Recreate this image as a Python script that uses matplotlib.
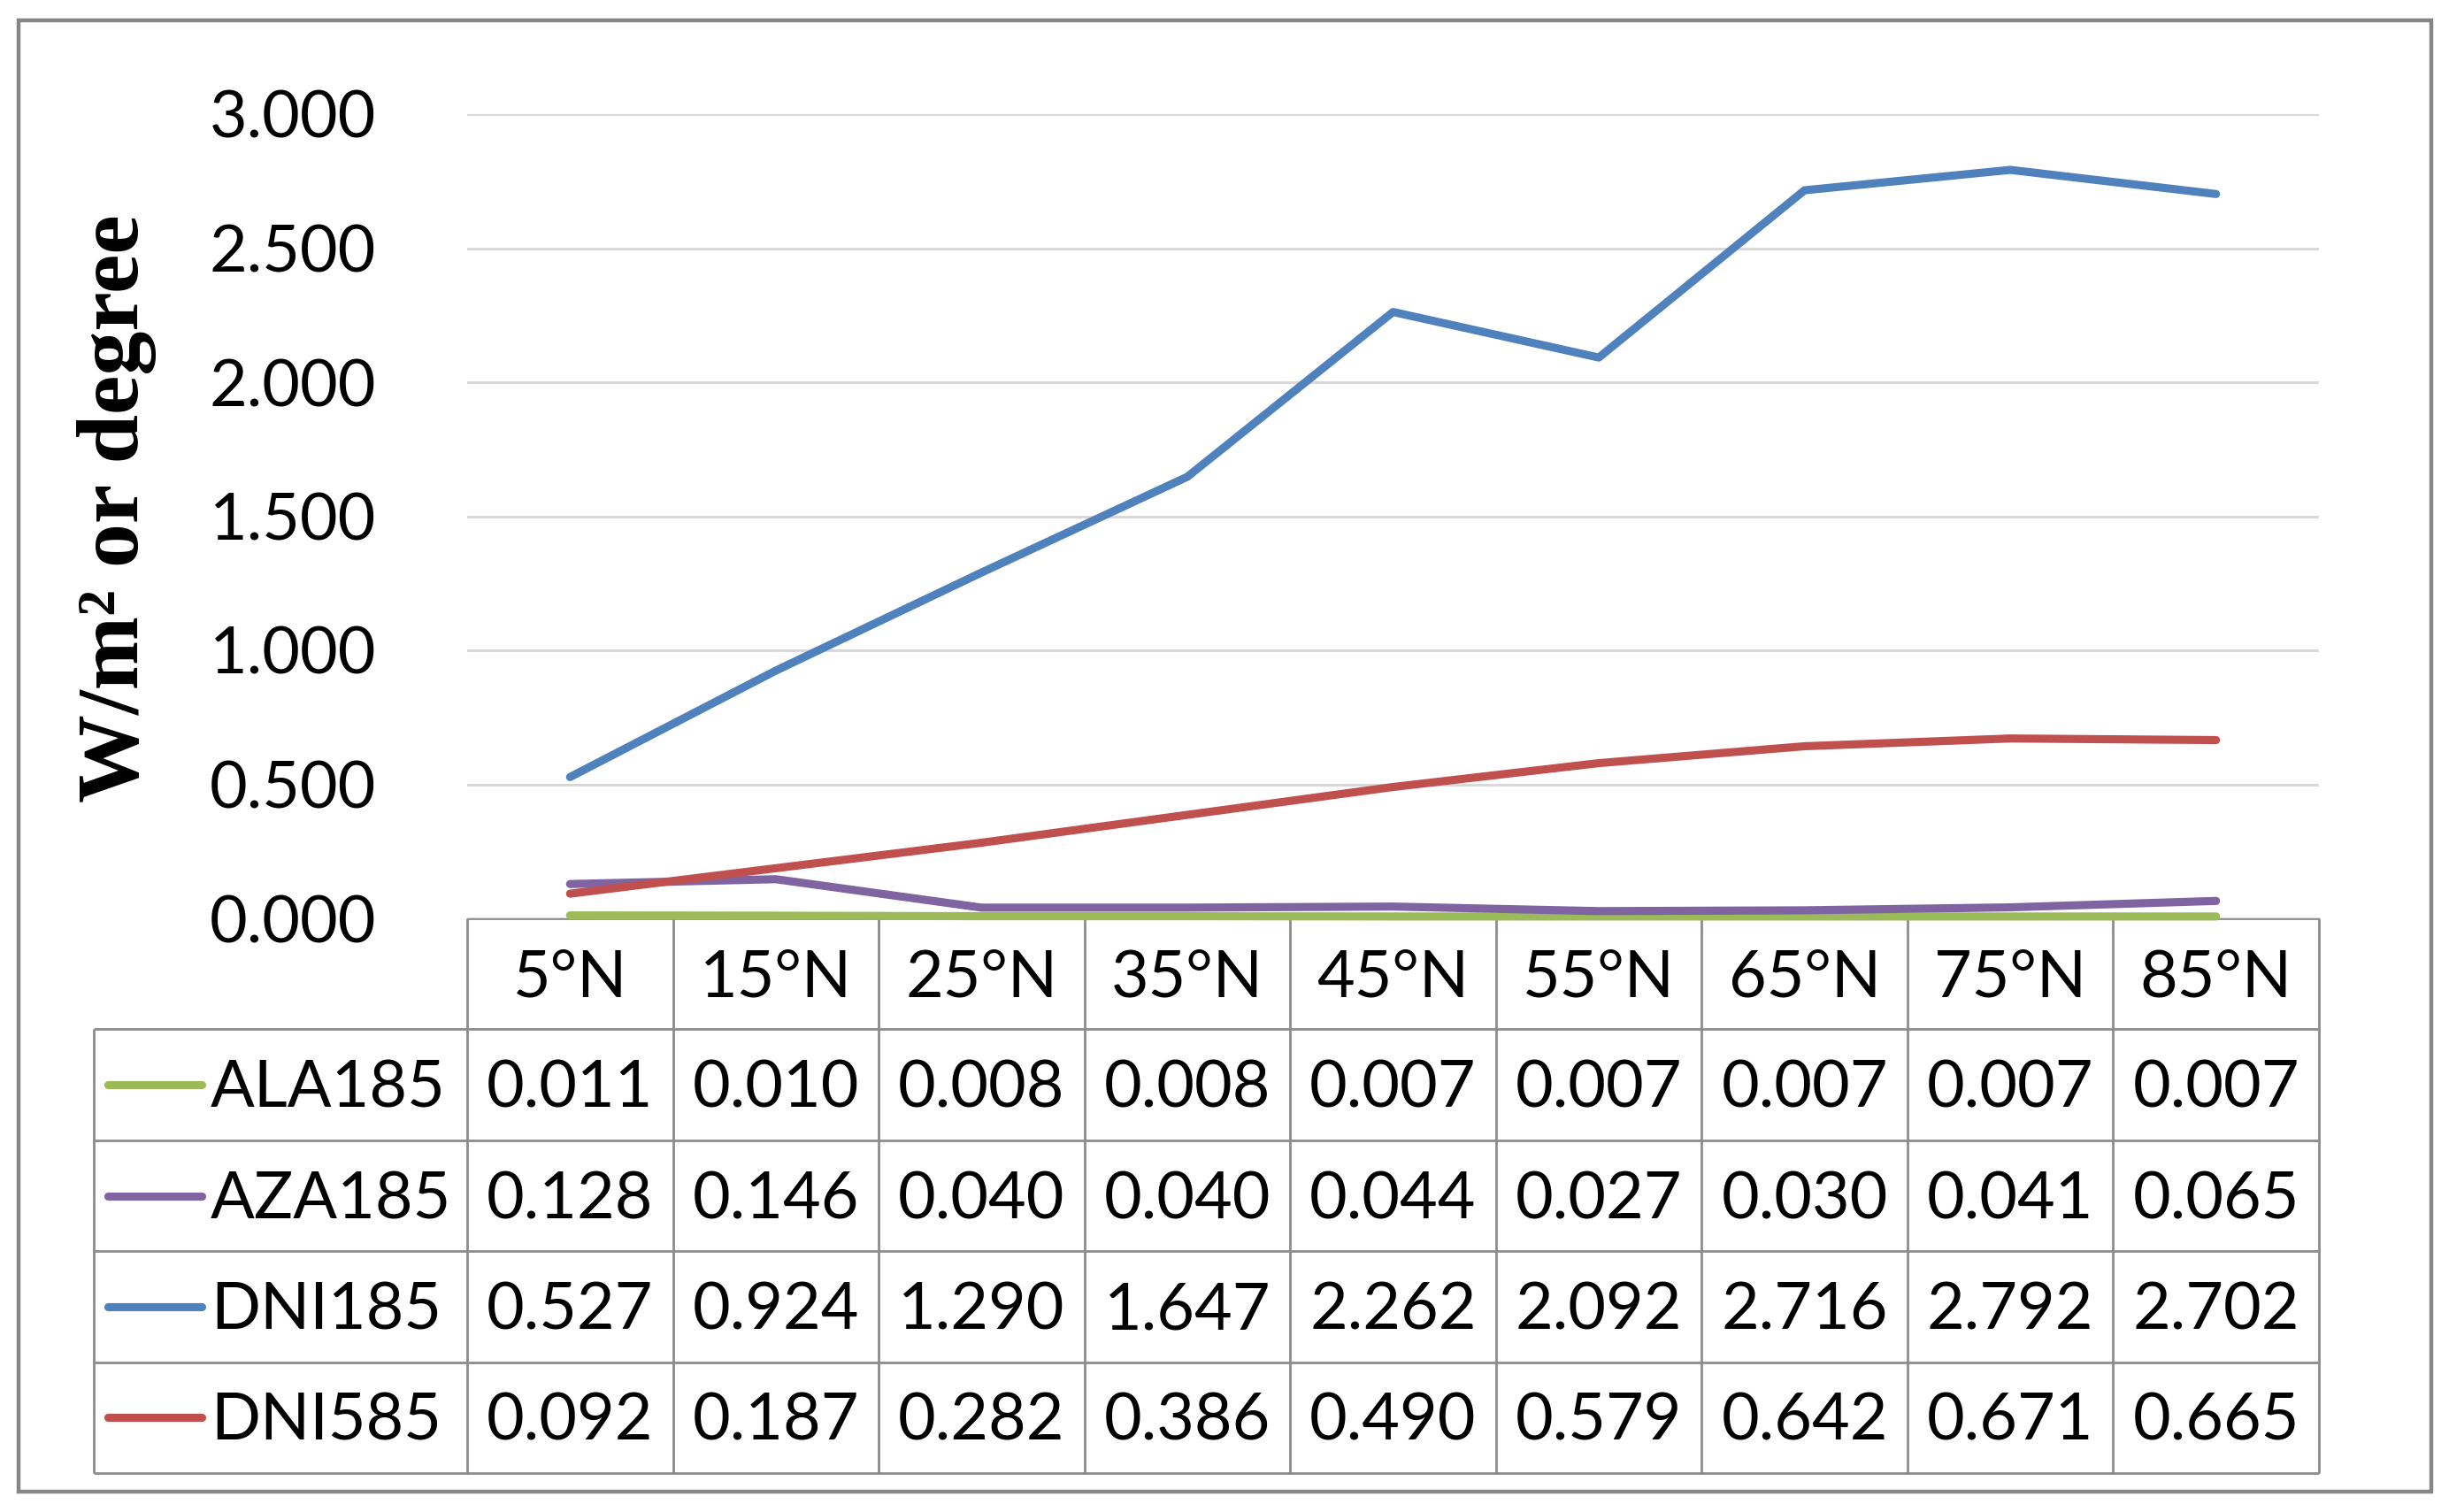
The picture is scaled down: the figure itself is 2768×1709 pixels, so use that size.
import numpy as np
import matplotlib
matplotlib.use('Agg')
import matplotlib.pyplot as plt
from matplotlib.patches import Rectangle

latitudes = ['5°N', '15°N', '25°N', '35°N', '45°N', '55°N', '65°N', '75°N', '85°N']
series_names = ['ALA185', 'AZA185', 'DNI185', 'DNI585']
ala185 = [0.011, 0.010, 0.008, 0.008, 0.007, 0.007, 0.007, 0.007, 0.007]
aza185 = [0.128, 0.146, 0.040, 0.040, 0.044, 0.027, 0.030, 0.041, 0.065]
dni185 = [0.527, 0.924, 1.290, 1.647, 2.262, 2.092, 2.716, 2.792, 2.702]
dni585 = [0.092, 0.187, 0.282, 0.386, 0.490, 0.579, 0.642, 0.671, 0.665]
y_ticks = [0.0, 0.5, 1.0, 1.5, 2.0, 2.5, 3.0]

colors = ['#9BBB59', '#8064A2', '#4F81BD', '#C0504D']
series = [ala185, aza185, dni185, dni585]

plt.rcParams['font.family'] = ['Lato', 'DejaVu Sans']

# layout in pixels of the 2768x1709 picture
W, H, DPI = 2768, 1709, 200
plot_l, plot_r, plot_t, plot_b = 528, 2621, 129, 1038
tab_l, tab_b = 106, 1665
n = len(latitudes)
colw = (plot_r - plot_l) / n
fs = 26.5
lw_data = 3.3
grey = '#8C8C8C'
txt_dy = 0.04  # nudge table text down a little

fig = plt.figure(figsize=(W / DPI, H / DPI), dpi=DPI)

# --- line chart ---
ax = fig.add_axes([plot_l / W, 1 - plot_b / H, (plot_r - plot_l) / W, (plot_b - plot_t) / H])
x = np.arange(n)
for vals, c in zip(series, colors):
    ax.plot(x, vals, color=c, lw=lw_data, solid_capstyle='round', clip_on=False, zorder=3)
ax.set_xlim(-0.5, n - 0.5)
ax.set_ylim(0, 3)
ax.set_yticks(y_ticks)
ax.set_yticklabels(['{:.3f}'.format(v) for v in y_ticks])
ax.set_xticks([])
ax.grid(axis='y', color='#D9D9D9', lw=1.1)
ax.set_axisbelow(True)
ax.tick_params(axis='y', length=0, pad=37, labelsize=fs)
for s in ax.spines.values():
    s.set_visible(False)
ax.patch.set_visible(False)
ax.set_ylabel('W/m² or degree', family=['Liberation Serif', 'DejaVu Serif'],
              fontweight='bold', fontsize=36, va='center')
ax.yaxis.set_label_coords((132 - plot_l) / (plot_r - plot_l), (plot_b - 575) / (plot_b - plot_t))
ax.set_zorder(2)

# --- data table below the chart ---
tab = fig.add_axes([tab_l / W, 1 - tab_b / H, (plot_r - tab_l) / W, (tab_b - plot_b) / H])
x0 = -0.5 - (plot_l - tab_l) / colw
tab.set_xlim(x0, n - 0.5)
tab.set_ylim(5, 0)
tab.axis('off')
tab.set_zorder(1)

tab.hlines(0, -0.5, n - 0.5, color=grey, lw=1.0, clip_on=False)
tab.hlines(np.arange(1, 6), x0, n - 0.5, color=grey, lw=1.0, clip_on=False)
tab.vlines(np.arange(n + 1) - 0.5, 0, 5, color=grey, lw=1.0, clip_on=False)
tab.vlines(x0, 1, 5, color=grey, lw=1.0, clip_on=False)

for i, lat in enumerate(latitudes):
    tab.text(i, 0.5 + txt_dy, lat, ha='center', va='center', fontsize=fs)

key_a = x0 + (122 - tab_l) / colw
key_b = x0 + (228 - tab_l) / colw
name_x = x0 + (238 - tab_l) / colw
for r, (name, vals, c) in enumerate(zip(series_names, series, colors)):
    yc = r + 1.5
    tab.plot([key_a, key_b], [yc, yc], color=c, lw=lw_data, solid_capstyle='round')
    tab.text(name_x, yc + txt_dy, name, ha='left', va='center', fontsize=fs)
    for i, v in enumerate(vals):
        tab.text(i, yc + txt_dy, '{:.3f}'.format(v), ha='center', va='center', fontsize=fs)

# outer chart border
fig.add_artist(Rectangle((21 / W, 1 - 1686 / H), (2748 - 21) / W, (1686 - 23) / H,
                         transform=fig.transFigure, fill=False, ec='#868686', lw=1.6))

fig.savefig('out.png', dpi=DPI)
